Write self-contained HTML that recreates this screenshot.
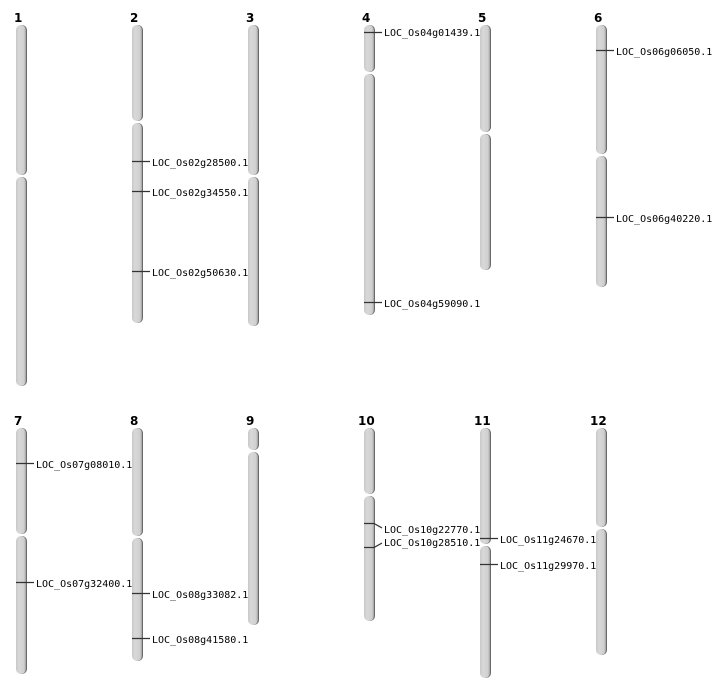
<!DOCTYPE html>
<html><head><style>body{margin:0;background:#fff}svg{display:block}</style></head><body>
<svg width="712" height="700" xmlns="http://www.w3.org/2000/svg" font-family="'DejaVu Sans Mono','Liberation Mono',monospace" font-size="10">
<defs>
<linearGradient id="g" x1="0" x2="1"><stop offset="0" stop-color="#c8c8c8"/><stop offset="0.3" stop-color="#d8d8d8"/><stop offset="0.8" stop-color="#d0d0d0"/><stop offset="1" stop-color="#a0a0a0"/></linearGradient>
</defs>
<g font-weight="bold" font-size="12" font-family="'DejaVu Sans','Liberation Sans',sans-serif">
<text x="14" y="22">1</text><text x="130" y="22">2</text><text x="246" y="22">3</text><text x="362" y="22">4</text><text x="478" y="22">5</text><text x="594" y="22">6</text>
<text x="14" y="425">7</text><text x="130" y="425">8</text><text x="246" y="425">9</text><text x="358" y="425">10</text><text x="474" y="425">11</text><text x="590" y="425">12</text>
</g>
<g fill="#6a6a6a">
<rect x="17" y="25" width="10" height="150" rx="5"/><rect x="17" y="177" width="10" height="209" rx="5"/>
<rect x="133" y="25" width="10" height="96" rx="5"/><rect x="133" y="123" width="10" height="200" rx="5"/>
<rect x="249" y="25" width="10" height="150" rx="5"/><rect x="249" y="177" width="10" height="149" rx="5"/>
<rect x="365" y="25" width="10" height="47" rx="5"/><rect x="365" y="74" width="10" height="241" rx="5"/>
<rect x="481" y="25" width="10" height="107" rx="5"/><rect x="481" y="134" width="10" height="136" rx="5"/>
<rect x="597" y="25" width="10" height="129" rx="5"/><rect x="597" y="156" width="10" height="131" rx="5"/>
<rect x="17" y="428" width="10" height="106" rx="5"/><rect x="17" y="536" width="10" height="138" rx="5"/>
<rect x="133" y="428" width="10" height="108" rx="5"/><rect x="133" y="538" width="10" height="123" rx="5"/>
<rect x="249" y="428" width="10" height="22" rx="5"/><rect x="249" y="452" width="10" height="173" rx="5"/>
<rect x="365" y="428" width="10" height="66" rx="5"/><rect x="365" y="496" width="10" height="125" rx="5"/>
<rect x="481" y="428" width="10" height="116" rx="5"/><rect x="481" y="546" width="10" height="132" rx="5"/>
<rect x="597" y="428" width="10" height="99" rx="5"/><rect x="597" y="529" width="10" height="126" rx="5"/>
</g>
<g fill="url(#g)">
<rect x="16" y="25" width="10" height="150" rx="5"/><rect x="16" y="177" width="10" height="209" rx="5"/>
<rect x="132" y="25" width="10" height="96" rx="5"/><rect x="132" y="123" width="10" height="200" rx="5"/>
<rect x="248" y="25" width="10" height="150" rx="5"/><rect x="248" y="177" width="10" height="149" rx="5"/>
<rect x="364" y="25" width="10" height="47" rx="5"/><rect x="364" y="74" width="10" height="241" rx="5"/>
<rect x="480" y="25" width="10" height="107" rx="5"/><rect x="480" y="134" width="10" height="136" rx="5"/>
<rect x="596" y="25" width="10" height="129" rx="5"/><rect x="596" y="156" width="10" height="131" rx="5"/>
<rect x="16" y="428" width="10" height="106" rx="5"/><rect x="16" y="536" width="10" height="138" rx="5"/>
<rect x="132" y="428" width="10" height="108" rx="5"/><rect x="132" y="538" width="10" height="123" rx="5"/>
<rect x="248" y="428" width="10" height="22" rx="5"/><rect x="248" y="452" width="10" height="173" rx="5"/>
<rect x="364" y="428" width="10" height="66" rx="5"/><rect x="364" y="496" width="10" height="125" rx="5"/>
<rect x="480" y="428" width="10" height="116" rx="5"/><rect x="480" y="546" width="10" height="132" rx="5"/>
<rect x="596" y="428" width="10" height="99" rx="5"/><rect x="596" y="529" width="10" height="126" rx="5"/>
</g>
<g stroke="#333" stroke-width="1.2" fill="none">
<path d="M132 161.5H150M132 191.5H150M132 271.5H150"/>
<path d="M364 32.5H382M364 302.5H382"/>
<path d="M596 50.5H614M596 217.5H614"/>
<path d="M16 463.5H34M16 582.5H34"/>
<path d="M132 593.5H150M132 638.5H150"/>
<path d="M364 523.5H374L382 528M364 547.5H374L382 543"/>
<path d="M480 538.5H498M480 564.5H498"/>
</g>
<g fill="#000" dominant-baseline="middle">
<text x="152" y="163">LOC_Os02g28500.1</text>
<text x="152" y="193">LOC_Os02g34550.1</text>
<text x="152" y="273">LOC_Os02g50630.1</text>
<text x="384" y="33">LOC_Os04g01439.1</text>
<text x="384" y="304">LOC_Os04g59090.1</text>
<text x="616" y="52">LOC_Os06g06050.1</text>
<text x="616" y="219">LOC_Os06g40220.1</text>
<text x="36" y="465">LOC_Os07g08010.1</text>
<text x="36" y="584">LOC_Os07g32400.1</text>
<text x="152" y="595">LOC_Os08g33082.1</text>
<text x="152" y="640">LOC_Os08g41580.1</text>
<text x="384" y="530">LOC_Os10g22770.1</text>
<text x="384" y="543">LOC_Os10g28510.1</text>
<text x="500" y="540">LOC_Os11g24670.1</text>
<text x="500" y="566">LOC_Os11g29970.1</text>
</g>
</svg>
</body></html>
